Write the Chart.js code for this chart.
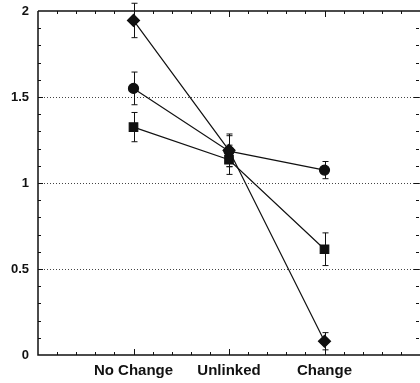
<!DOCTYPE html>
<html>
<head>
<meta charset="utf-8">
<script src="https://cdn.jsdelivr.net/npm/chart.js@4"></script>
<style>
  body { margin: 0; background: #fff; }
  canvas { display: block; }
</style>
</head>
<body>
<canvas id="chart" width="420" height="383"></canvas>
<script>
const categories = ['No Change', 'Unlinked', 'Change'];
const diamondMeans = [1.945, 1.19, 0.08];
const diamondErr = [0.1, 0.095, 0.05];
const circleMeans = [1.55, 1.185, 1.075];
const circleErr = [0.095, 0.09, 0.05];
const squareMeans = [1.325, 1.135, 0.615];
const squareErr = [0.085, 0.085, 0.095];
const yTickValues = [0, 0.5, 1, 1.5, 2];

function points(means) {
    return means.map((v, i) => ({ x: i + 1, y: v }));
}

// error bars + axis frame with inward ticks
const errorBars = {
    id: 'errorBars',
    afterDatasetsDraw(chart) {
        const ctx = chart.ctx;
        const xs = chart.scales.x, ys = chart.scales.y;
        const sets = [[diamondMeans, diamondErr], [circleMeans, circleErr], [squareMeans, squareErr]];
        ctx.save();
        ctx.strokeStyle = '#111';
        ctx.lineWidth = 1;
        sets.forEach(([m, e]) => {
            m.forEach((v, i) => {
                const px = Math.round(xs.getPixelForValue(i + 1)) + 0.5;
                const top = ys.getPixelForValue(v + e[i]);
                const bot = ys.getPixelForValue(v - e[i]);
                ctx.beginPath();
                ctx.moveTo(px, top); ctx.lineTo(px, bot);
                ctx.moveTo(px - 3, top); ctx.lineTo(px + 3, top);
                ctx.moveTo(px - 3, bot); ctx.lineTo(px + 3, bot);
                ctx.stroke();
            });
        });
        ctx.restore();
    },
    afterDraw(chart) {
        const ctx = chart.ctx;
        const a = chart.chartArea;
        const xs = chart.scales.x, ys = chart.scales.y;
        ctx.save();
        ctx.strokeStyle = '#111';
        ctx.lineWidth = 1.5;
        ctx.beginPath();
        ctx.moveTo(a.left, a.top); ctx.lineTo(a.left, a.bottom);
        ctx.lineTo(a.right, a.bottom);
        ctx.moveTo(a.left, a.top); ctx.lineTo(a.right, a.top);
        ctx.stroke();
        ctx.lineWidth = 1;
        ctx.beginPath();
        for (let k = 1; k < 20; k++) {
            const v = k / 10;
            const py = Math.round(ys.getPixelForValue(v)) + 0.5;
            const len = k % 5 === 0 ? 5 : 3;
            ctx.moveTo(a.left, py); ctx.lineTo(a.left + len, py);
            ctx.moveTo(a.right - 1, py); ctx.lineTo(a.right - 1 - len, py);
        }
        for (let k = 1; k < 20; k++) {
            const v = k / 5;
            const px = Math.round(xs.getPixelForValue(v)) + 0.5;
            const len = k % 5 === 0 ? 6 : 3;
            ctx.moveTo(px, a.bottom); ctx.lineTo(px, a.bottom - len);
            ctx.moveTo(px, a.top); ctx.lineTo(px, a.top + len);
        }
        ctx.stroke();
        ctx.restore();
    }
};

const lineStyle = {
    showLine: true,
    borderColor: '#111',
    backgroundColor: '#111',
    borderWidth: 1.2,
    pointBorderColor: '#111',
    pointBackgroundColor: '#111'
};

new Chart(document.getElementById('chart').getContext('2d'), {
    type: 'scatter',
    data: {
        datasets: [
            Object.assign({ data: points(diamondMeans), pointStyle: 'rectRot', pointRadius: 6 }, lineStyle),
            Object.assign({ data: points(circleMeans), pointStyle: 'circle', pointRadius: 5 }, lineStyle),
            Object.assign({ data: points(squareMeans), pointStyle: 'rect', pointRadius: 6 }, lineStyle)
        ]
    },
    options: {
        responsive: false,
        animation: false,
        layout: { autoPadding: false, padding: { top: 11, right: 0, left: 0, bottom: 0 } },
        plugins: { legend: { display: false }, tooltip: { enabled: false } },
        scales: {
            x: {
                type: 'linear',
                min: 0,
                max: 4,
                afterBuildTicks: s => { s.ticks = categories.map((c, i) => ({ value: i + 1 })); },
                afterFit: s => { s.height = 28; s.paddingLeft = 0; s.paddingRight = 0; },
                grid: { display: false, drawTicks: false },
                border: { display: false },
                ticks: {
                    color: '#111',
                    padding: 7,
                    maxRotation: 0,
                    font: { family: 'Liberation Sans', size: 15, weight: 'bold' },
                    callback: v => categories[v - 1]
                }
            },
            y: {
                min: 0,
                max: 2,
                afterBuildTicks: s => { s.ticks = yTickValues.map(v => ({ value: v })); },
                afterFit: s => { s.width = 38; s.paddingTop = 0; s.paddingBottom = 0; },
                grid: {
                    drawTicks: false,
                    color: c => (c.tick && c.tick.value > 0 && c.tick.value < 2) ? '#444' : 'rgba(0,0,0,0)',
                    lineWidth: 1
                },
                border: { display: false, dash: [1, 2] },
                ticks: {
                    color: '#111',
                    padding: 9,
                    font: { family: 'Liberation Sans', size: 13, weight: 'bold' },
                    callback: v => String(v)
                }
            }
        }
    },
    plugins: [errorBars]
});
</script>
</body>
</html>
